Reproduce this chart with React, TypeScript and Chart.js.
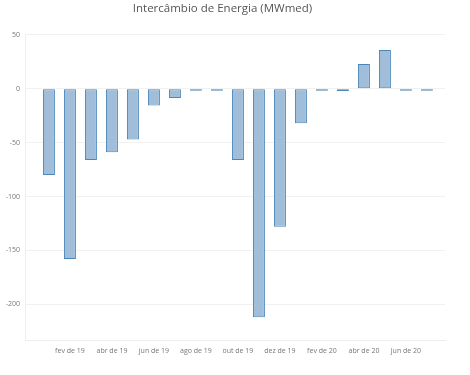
import React, { useEffect, useRef } from "react";
import { Chart, registerables } from "chart.js";

Chart.register(...registerables);

const months = [
  "jan de 19", "fev de 19", "mar de 19", "abr de 19", "mai de 19", "jun de 19",
  "jul de 19", "ago de 19", "set de 19", "out de 19", "nov de 19", "dez de 19",
  "jan de 20", "fev de 20", "mar de 20", "abr de 20", "mai de 20", "jun de 20", "jul de 20",
];
const intercambio = [
  -80, -158, -66, -59, -47, -15.5, -8.6, -0.5, -0.5, -66, -212, -128,
  -32, -0.5, -2.2, 23, 36, -0.5, -0.5,
];
const yTicks = [50, 0, -50, -100, -150, -200];
const titleText = "Intercâmbio de Energia (MWmed)";

export default function App() {
  const ref = useRef<HTMLCanvasElement>(null);
  useEffect(() => {
    document.body.style.margin = "0";
    const ctx = ref.current!;
    const chart = new Chart(ctx, {
      type: "bar",
      data: {
        labels: months,
        datasets: [
          {
            data: intercambio,
            backgroundColor: "#a0bed9",
            borderColor: "#4a86b8",
            borderWidth: 1,
            borderSkipped: false,
            categoryPercentage: 1,
            barPercentage: 0.57,
            minBarLength: 2,
          },
        ],
      },
      options: {
        animation: false,
        responsive: false,
        maintainAspectRatio: false,
        layout: { padding: { left: 0, right: 25, top: 0, bottom: 0 } },
        plugins: {
          legend: { display: false },
          tooltip: { enabled: false },
          title: {
            display: true,
            text: titleText,
            color: "#555555",
            font: { family: "Open Sans", size: 11.5, weight: "normal" },
            padding: { top: 2, bottom: 19 },
          },
        },
        scales: {
          x: {
            grid: { display: false, drawTicks: false },
            border: { display: true, color: "#eeeeee" },
            ticks: {
              autoSkip: false,
              maxRotation: 0,
              padding: 7,
              color: "#777777",
              font: { family: "Open Sans", size: 7 },
              callback: (_v: any, i: number) => (i % 2 === 1 ? months[i] : ""),
            },
            afterFit: (s: any) => {
              s.height = 35;
            },
            afterUpdate: (s: any) => {
              s._startValue = -1.14;
              s._valueRange = months.length + 1;
            },
          },
          y: {
            min: -233,
            max: 50,
            grid: { color: "#f1f1f1", drawTicks: false },
            border: { display: true, color: "#eeeeee" },
            afterBuildTicks: (s: any) => {
              s.ticks = yTicks.map((v) => ({ value: v }));
            },
            ticks: {
              padding: 5,
              color: "#777777",
              font: { family: "Open Sans", size: 7 },
            },
            afterFit: (s: any) => {
              s.width = 25;
            },
          },
        },
      },
    });
    return () => chart.destroy();
  }, []);
  return (
    <div style={{ position: "fixed", left: 0, top: 0, width: 470, height: 375, background: "#fff" }}>
      <canvas ref={ref} width={470} height={375} />
    </div>
  );
}
